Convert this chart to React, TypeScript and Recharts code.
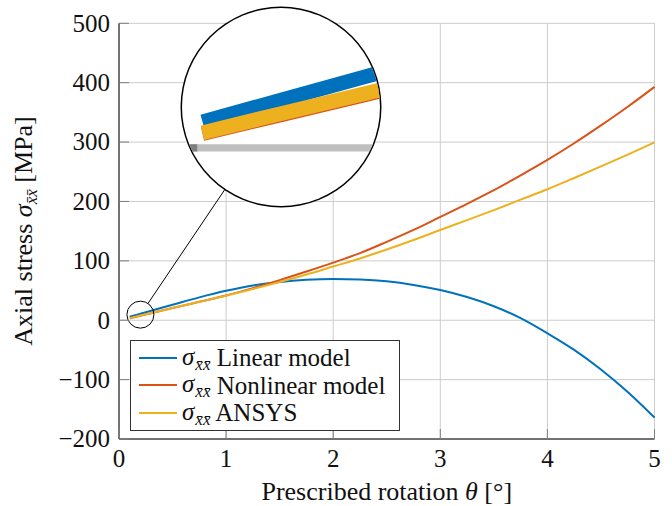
import { CartesianGrid, Line, LineChart, ReferenceDot, ReferenceLine, XAxis, YAxis } from 'recharts'

// rotation [deg] and the three stress curves [MPa]
const THETA = [0.1, 0.2, 0.3, 0.5, 0.75, 1, 1.25, 1.5, 1.75, 2, 2.25, 2.5, 2.75, 3, 3.25, 3.5, 3.75, 4, 4.25, 4.5, 4.75, 5]
const LINEAR = [6, 11, 16, 26, 38.5, 49.5, 58.5, 64.5, 68, 69.3, 68.5, 65.5, 59.5, 50.8, 39, 23.5, 3.5, -22, -50, -83, -121, -164]
const NONLINEAR = [3.3, 7.6, 11.9, 20.5, 31, 41.5, 54, 67.5, 82, 97, 113, 132, 152, 174, 196, 219, 244, 270, 298, 328, 359.5, 393]
const ANSYS = [3.5, 7.9, 12.2, 20.5, 31, 41.2, 52.5, 64.5, 77, 90.5, 104, 119, 135, 152, 168.5, 185.5, 203, 220.5, 239.5, 259, 279, 299.5]

const X_TICKS = [0, 1, 2, 3, 4, 5]
const Y_TICKS = [-200, -100, 0, 100, 200, 300, 400, 500]

const SERIES = [
  { key: 'linear', label: 'Linear model', color: '#0072BD' },
  { key: 'nonlinear', label: 'Nonlinear model', color: '#D95319' },
  { key: 'ansys', label: 'ANSYS', color: '#EDB120' },
]

const data = THETA.map((t, i) => ({
  theta: t,
  linear: LINEAR[i],
  nonlinear: NONLINEAR[i],
  ansys: ANSYS[i],
}))

const FONT = '"Liberation Serif", "Times New Roman", serif'
const FS = 25
const LABEL_FS = 26
const W = 672
const H = 506
const PLOT_LEFT = 119
const PLOT_RIGHT = 654.5
const PLOT_TOP = 23.3
const PLOT_BOTTOM = 439
const TICK_LEN = 10
const LINE_W = 2

// spy glass
const SPY_THETA = 0.2
const SPY_VALUE = 9.4
const SPY_R_SMALL = 13.5
const SPY_R_BIG = 99
const SPY_CX = 280.5
const SPY_CY = 107
const MAG = SPY_R_BIG / SPY_R_SMALL
const pxPerTheta = (PLOT_RIGHT - PLOT_LEFT) / 5
const pxPerMPa = (PLOT_BOTTOM - PLOT_TOP) / 700
const spyDTheta = SPY_R_SMALL / pxPerTheta
const spyDValue = SPY_R_SMALL / pxPerMPa

const smallCx = PLOT_LEFT + SPY_THETA * pxPerTheta
const smallCy = PLOT_BOTTOM - (SPY_VALUE + 200) * pxPerMPa

function fmt(v: number) {
  return v < 0 ? `\u2212${Math.abs(v)}` : String(v)
}

const XTick = (props: any) => {
  const { x, payload } = props
  return (
    <g>
      <line x1={x} x2={x} y1={PLOT_BOTTOM} y2={PLOT_BOTTOM - TICK_LEN} stroke="#7f7f7f" />
      <text x={x} y={467} textAnchor="middle" fontFamily={FONT} fontSize={FS} fill="#111">
        {payload.value}
      </text>
    </g>
  )
}

const YTick = (props: any) => {
  const { y, payload } = props
  return (
    <g>
      <line x1={PLOT_LEFT} x2={PLOT_LEFT + TICK_LEN} y1={y} y2={y} stroke="#7f7f7f" />
      <text x={110} y={y + 8.3} textAnchor="end" fontFamily={FONT} fontSize={FS} fill="#111">
        {fmt(payload.value)}
      </text>
    </g>
  )
}

function Sigma() {
  return (
    <span style={{ fontStyle: 'italic' }}>
      σ<sub style={{ fontSize: 17, verticalAlign: 'baseline', position: 'relative', top: 5, marginLeft: 1 }}>x̄x̄</sub>
    </span>
  )
}

export default function App() {
  const bx = SPY_CX - smallCx
  const by = SPY_CY - smallCy
  const dist = Math.hypot(bx, by)
  const ux = bx / dist
  const uy = by / dist

  return (
    <div style={{ position: 'fixed', left: 0, top: 0, width: W, height: H, background: '#fff' }}>
      <LineChart
        width={W}
        height={H}
        data={data}
        margin={{ top: PLOT_TOP, right: W - PLOT_RIGHT, bottom: H - PLOT_BOTTOM - 30, left: PLOT_LEFT - 60 }}
      >
        <CartesianGrid stroke="#cccccc" strokeWidth={1} />
        <XAxis
          dataKey="theta"
          type="number"
          domain={[0, 5]}
          ticks={X_TICKS}
          height={30}
          tickLine={false}
          tick={<XTick />}
          axisLine={{ stroke: '#000', strokeWidth: 1 }}
        />
        <YAxis
          type="number"
          domain={[-200, 500]}
          ticks={Y_TICKS}
          width={60}
          tickLine={false}
          tick={<YTick />}
          axisLine={{ stroke: '#000', strokeWidth: 1 }}
        />
        {SERIES.map((s) => (
          <Line
            key={s.key}
            type="monotone"
            dataKey={s.key}
            stroke={s.color}
            strokeWidth={LINE_W}
            dot={false}
            isAnimationActive={false}
          />
        ))}
        <ReferenceDot x={SPY_THETA} y={SPY_VALUE} r={SPY_R_SMALL} fill="none" stroke="#000" strokeWidth={1} />
      </LineChart>

      <svg width={W} height={H} style={{ position: 'absolute', left: 0, top: 0, pointerEvents: 'none' }}>
        <line
          x1={smallCx + ux * SPY_R_SMALL}
          y1={smallCy + uy * SPY_R_SMALL}
          x2={SPY_CX - ux * SPY_R_BIG}
          y2={SPY_CY - uy * SPY_R_BIG}
          stroke="#000"
          strokeWidth={1}
        />
        <text
          transform="translate(31.5, 231) rotate(-90)"
          textAnchor="middle"
          fontFamily={FONT}
          fontSize={LABEL_FS}
          fill="#111"
        >
          Axial stress <tspan fontStyle="italic">σ</tspan>
          <tspan fontStyle="italic" fontSize={17} dy={5}>x̄x̄</tspan>
          <tspan dy={-5}> [MPa]</tspan>
        </text>
        <text x={(PLOT_LEFT + PLOT_RIGHT) / 2} y={500} textAnchor="middle" fontFamily={FONT} fontSize={LABEL_FS} fill="#111">
          Prescribed rotation <tspan fontStyle="italic">θ</tspan> [°]
        </text>
      </svg>

      <div
        style={{
          position: 'absolute',
          left: SPY_CX - SPY_R_BIG,
          top: SPY_CY - SPY_R_BIG,
          width: SPY_R_BIG * 2,
          height: SPY_R_BIG * 2,
          borderRadius: '50%',
          overflow: 'hidden',
          background: '#fff',
          boxShadow: '0 0 0 1.5px #000',
        }}
      >
        <LineChart width={SPY_R_BIG * 2} height={SPY_R_BIG * 2} data={data} margin={{ top: 0, right: 0, bottom: 0, left: 0 }}>
          <XAxis
            dataKey="theta"
            type="number"
            hide
            allowDataOverflow
            domain={[SPY_THETA - spyDTheta, SPY_THETA + spyDTheta]}
          />
          <YAxis type="number" hide allowDataOverflow domain={[SPY_VALUE - spyDValue, SPY_VALUE + spyDValue]} />
          <ReferenceLine y={0} stroke="#bfbfbf" strokeWidth={MAG} />
          <ReferenceLine
            segment={[
              { x: 0, y: 0 },
              { x: TICK_LEN / pxPerTheta, y: 0 },
            ]}
            ifOverflow="visible"
            stroke="#7f7f7f"
            strokeWidth={MAG}
          />
          {SERIES.map((s) => (
            <Line
              key={s.key}
              type="monotone"
              dataKey={s.key}
              stroke={s.color}
              strokeWidth={LINE_W * MAG}
              dot={false}
              isAnimationActive={false}
            />
          ))}
        </LineChart>
      </div>

      <div
        style={{
          position: 'absolute',
          left: 130,
          top: 340,
          width: 270,
          height: 91,
          boxSizing: 'border-box',
          border: '1px solid #333',
          background: '#fff',
          fontFamily: FONT,
          fontSize: FS,
          color: '#111',
          paddingTop: 3,
        }}
      >
        {SERIES.map((s) => (
          <div key={s.key} style={{ display: 'flex', alignItems: 'center', height: 27.5, lineHeight: '27.5px' }}>
            <div style={{ width: 38, height: 2, background: s.color, marginLeft: 8, marginRight: 5 }} />
            <Sigma />
            <span style={{ whiteSpace: 'pre' }}> {s.label}</span>
          </div>
        ))}
      </div>
    </div>
  )
}
